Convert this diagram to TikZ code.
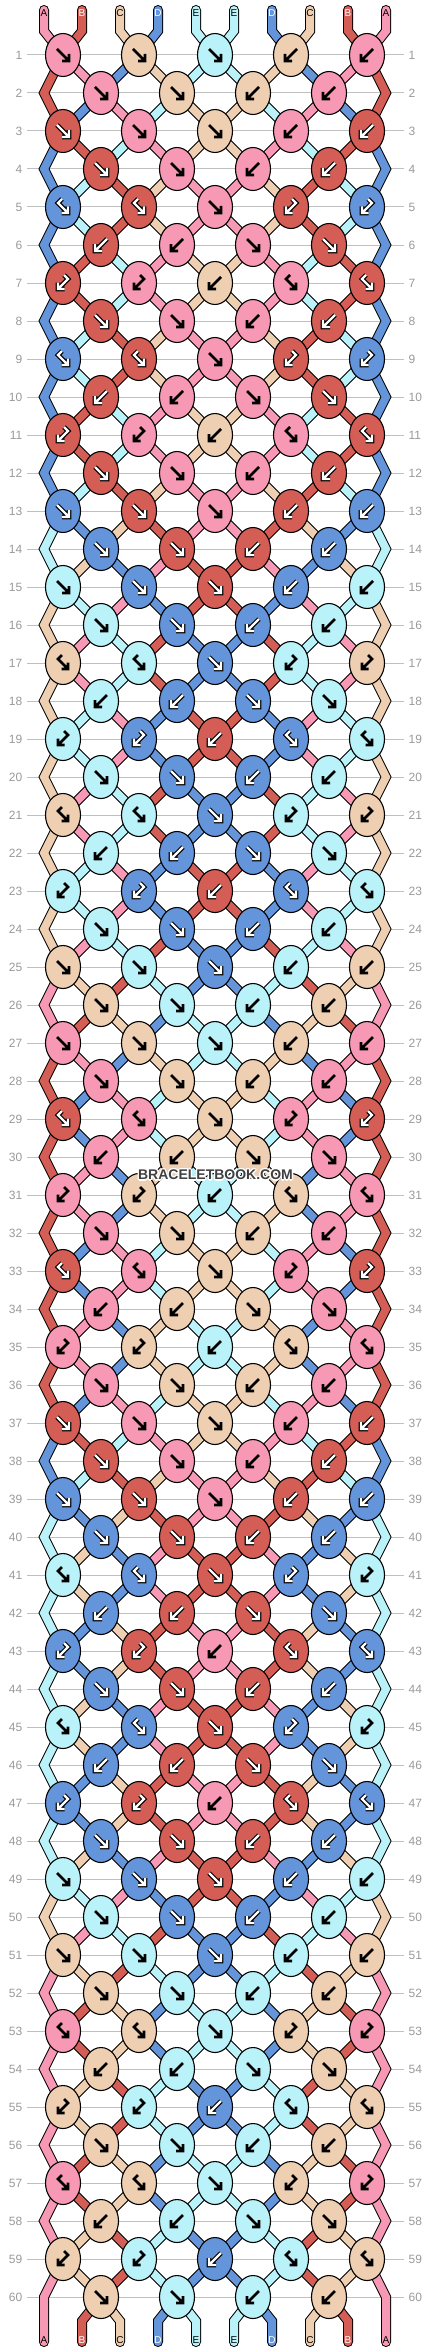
\documentclass[tikz,border=0pt]{standalone}
\usepackage{fontspec}
\setmainfont{Liberation Sans}
\usetikzlibrary{shapes.geometric}
\definecolor{colA}{HTML}{F799B5}
\definecolor{colB}{HTML}{D45E55}
\definecolor{colC}{HTML}{EFCFB1}
\definecolor{colD}{HTML}{6495DB}
\definecolor{colE}{HTML}{BAF2F9}
\definecolor{rowgray}{HTML}{9A9A9A}
\definecolor{linegray}{HTML}{C0C0C0}
\definecolor{wmgray}{HTML}{404040}
\def\txA{black}\def\txB{white}\def\txC{black}\def\txD{white}\def\txE{black}
\def\dkA{0}\def\dkB{1}\def\dkC{0}\def\dkD{1}\def\dkE{0}

\tikzset{
  segout/.style={draw=black,line width=10pt,line cap=round,line join=miter},
  segin/.style={draw=col#1,line width=8pt,line cap=round,line join=miter},
  knot/.style={ellipse,draw=black,line width=1.1pt,minimum width=35pt,minimum height=43pt,inner sep=0pt},
  glw/.style={line cap=butt,line join=miter},
  rownum/.style={text=rowgray,font=\fontsize{12}{14}\selectfont,inner sep=0pt},
  strlbl/.style={font=\fontsize{10}{12}\selectfont,inner sep=0pt},
  wm/.style={font=\fontsize{14}{16}\selectfont\bfseries,inner sep=0pt},
}

% ---- simulation of the strings ----
\def\initorder{A,B,C,D,E,E,D,C,B,A}
\foreach \mc [count=\myi from 0] in \initorder {\expandafter\xdef\csname c-0-\myi\endcsname{\mc}}
\foreach \myr in {1,...,60}{%
  \pgfmathtruncatemacro\pr{\myr-1}%
  \pgfmathtruncatemacro\mm{mod(\myr-1,12)}%
  \pgfmathtruncatemacro\odd{mod(\myr,2)}%
  \foreach \myi in {0,...,9}{\expandafter\xdef\csname c-\myr-\myi\endcsname{\csname c-\pr-\myi\endcsname}}%
  \ifcase\mm\relax \gdef\codes{1,1,1,2,2}%
  \or \gdef\codes{1,1,2,2}%
  \or \gdef\codes{1,1,1,2,2}%
  \or \gdef\codes{1,1,2,2}%
  \or \gdef\codes{3,3,1,4,4}%
  \or \gdef\codes{2,2,1,1}%
  \or \gdef\codes{4,4,2,3,3}%
  \or \gdef\codes{1,1,2,2}%
  \or \gdef\codes{3,3,1,4,4}%
  \or \gdef\codes{2,2,1,1}%
  \or \gdef\codes{4,4,2,3,3}%
  \or \gdef\codes{1,1,2,2}%
  \fi
  \foreach \myt [count=\myk from 0] in \codes {%
    \pgfmathtruncatemacro\pa{2*\myk+1-\odd}%
    \pgfmathtruncatemacro\pb{\pa+1}%
    \edef\lft{\csname c-\pr-\pa\endcsname}%
    \edef\rgt{\csname c-\pr-\pb\endcsname}%
    \expandafter\xdef\csname t-\myr-\myk\endcsname{\myt}%
    \ifnum\myt=1 \expandafter\xdef\csname k-\myr-\myk\endcsname{\lft}\fi
    \ifnum\myt=3 \expandafter\xdef\csname k-\myr-\myk\endcsname{\lft}\fi
    \ifnum\myt=2 \expandafter\xdef\csname k-\myr-\myk\endcsname{\rgt}\fi
    \ifnum\myt=4 \expandafter\xdef\csname k-\myr-\myk\endcsname{\rgt}\fi
    \ifnum\myt<3
      \expandafter\xdef\csname c-\myr-\pa\endcsname{\rgt}%
      \expandafter\xdef\csname c-\myr-\pb\endcsname{\lft}%
    \fi
  }%
}

\newcommand\kglyphpath[2]{%
  \ifcase#1\relax\or
    \draw[glw,#2] (-6,-6) -- (6,6) (6,-1) -- (6,6) -- (-1,6);
  \or
    \draw[glw,#2] (6,-6) -- (-6,6) (-6,-1) -- (-6,6) -- (1,6);
  \or
    \draw[glw,#2] (-1,-8) -- (-5,-4) -- (5,6) (5,-0.5) -- (5,6) -- (-1.5,6);
  \or
    \draw[glw,#2] (1,-8) -- (5,-4) -- (-5,6) (-5,-0.5) -- (-5,6) -- (1.5,6);
  \fi}
\newcommand\knotglyph[4]{%
  \begin{scope}[shift={(#3,#4)}]
  \ifnum\csname dk#2\endcsname=1
    \kglyphpath{#1}{black,line width=4.6pt}%
    \kglyphpath{#1}{white,line width=2.4pt}%
  \else
    \kglyphpath{#1}{black,line width=2.7pt}%
  \fi
  \end{scope}}

\newcommand\drawsegs[1]{%
  \foreach \myi in {0,...,9}{%
    \edef\myX{\csname c-0-\myi\endcsname}%
    \draw[#1=\myX] (t-\myi) -- (b-\myi) -- (p-1-\myi);
  }%
  \foreach \myr in {1,...,59}{%
    \pgfmathtruncatemacro\nr{\myr+1}%
    \foreach \myi in {1,...,8}{%
      \edef\myX{\csname c-\myr-\myi\endcsname}%
      \draw[#1=\myX] (p-\myr-\myi) -- (p-\nr-\myi);
    }%
  }%
  \foreach \myr in {2,4,...,58}{%
    \pgfmathtruncatemacro\pr{\myr-1}%
    \pgfmathtruncatemacro\nr{\myr+1}%
    \foreach \myi in {0,9}{%
      \edef\myX{\csname c-\myr-\myi\endcsname}%
      \draw[#1=\myX] (p-\pr-\myi) -- (p-\myr-\myi) -- (p-\nr-\myi);
    }%
  }%
  \foreach \myi in {0,9}{%
    \edef\myX{\csname c-60-\myi\endcsname}%
    \draw[#1=\myX] (p-59-\myi) -- (p-60-\myi) -- (e-\myi);
  }%
  \foreach \myi in {1,...,8}{%
    \edef\myX{\csname c-60-\myi\endcsname}%
    \draw[#1=\myX] (p-60-\myi) -- (d-\myi) -- (e-\myi);
  }%
}

\begin{document}
\begin{tikzpicture}[x=1pt,y=-1pt]
\useasboundingbox (0,0) rectangle (430,2352);
\fill[white] (0,0) rectangle (430,2352);

% row lines and numbers
\foreach \myr in {1,...,60}{
  \pgfmathsetmacro\yy{17+38*\myr}
  \draw[linegray,line width=1pt] (27,\yy) -- (404,\yy);
  \node[rownum,anchor=east] (ln-\myr) at (22.5,\yy) {\myr};
  \node[rownum,anchor=west] (rn-\myr) at (408.5,\yy) {\myr};
}

% coordinates of the string positions
\foreach \myi in {0,...,9}{
  \pgfmathsetmacro\xx{44+38*\myi}
  \coordinate (t-\myi) at (\xx,10);
  \coordinate (b-\myi) at (\xx,31);
  \coordinate (d-\myi) at (\xx,2321);
  \coordinate (e-\myi) at (\xx,2342);
}
\foreach \myr in {1,...,60}{
  \pgfmathtruncatemacro\odd{mod(\myr,2)}
  \pgfmathsetmacro\yy{17+38*\myr}
  \foreach \myi in {0,...,9}{
    \ifnum\odd=1
      \pgfmathsetmacro\xx{63+76*floor(\myi/2)}
    \else
      \ifnum\myi=0 \def\xx{44}\else\ifnum\myi=9 \def\xx{386}\else
        \pgfmathsetmacro\xx{101+76*floor((\myi-1)/2)}\fi\fi
    \fi
    \coordinate (p-\myr-\myi) at (\xx,\yy);
  }
}

% strings
\drawsegs{segout}
\drawsegs{segin}

% knots
\foreach \myr in {1,...,60}{
  \pgfmathtruncatemacro\odd{mod(\myr,2)}
  \pgfmathtruncatemacro\nk{3+\odd}
  \pgfmathsetmacro\yy{17+38*\myr}
  \foreach \myk in {0,...,\nk}{
    \pgfmathsetmacro\xx{101-38*\odd+76*\myk}
    \edef\myX{\csname k-\myr-\myk\endcsname}
    \edef\myT{\csname t-\myr-\myk\endcsname}
    \node[knot,fill=col\myX] (n-\myr-\myk) at (\xx,\yy) {};
    \knotglyph{\myT}{\myX}{\xx}{\yy}
  }
}

% string labels
\foreach \myi in {0,...,9}{
  \pgfmathsetmacro\xx{44+38*\myi}
  \edef\myX{\csname c-0-\myi\endcsname}
  \edef\tc{\csname tx\myX\endcsname}
  \node[strlbl,text=\tc] (top-\myi) at (\xx,13.5) {\myX};
  \edef\myX{\csname c-60-\myi\endcsname}
  \edef\tc{\csname tx\myX\endcsname}
  \node[strlbl,text=\tc] (bot-\myi) at (\xx,2340.5) {\myX};
}

% watermark
\foreach \dx/\dy [count=\h] in {1.3/0,-1.3/0,0/1.3,0/-1.3,1/1,1/-1,-1/1,-1/-1}{
  \node[wm,text=white] (wmh\h) at (215.5+\dx,1175+\dy) {BRACELETBOOK.COM};
}
\node[wm,text=wmgray] (wm) at (215.5,1175) {BRACELETBOOK.COM};
\end{tikzpicture}
\end{document}
